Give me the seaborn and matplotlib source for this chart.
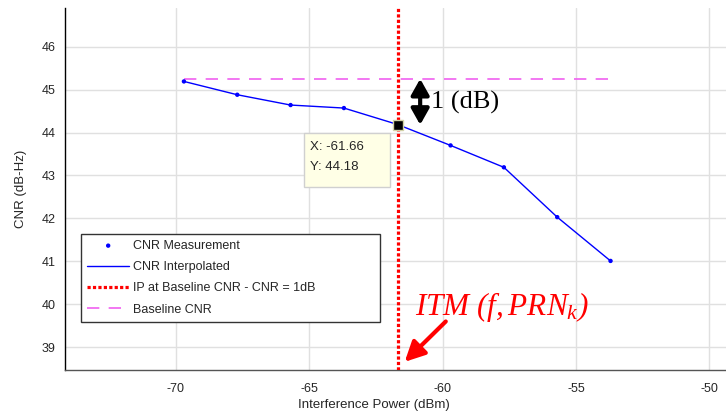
import numpy as np
import pandas as pd
import matplotlib
matplotlib.use("Agg")
import matplotlib.pyplot as plt
from matplotlib.patches import Rectangle
import seaborn as sns

# ---- data ----
ip_meas = [-69.7, -67.7, -65.7, -63.7, -61.7, -59.7, -57.7, -55.7, -53.7]
cnr_meas = [45.19, 44.88, 44.64, 44.57, 44.19, 43.70, 43.19, 42.03, 41.01]
baseline_cnr = 45.25
itm_x = -61.66
itm_y = 44.18
x_ticks = [-70, -65, -60, -55, -50]
y_ticks = [39, 40, 41, 42, 43, 44, 45, 46]

df = pd.DataFrame({"ip": ip_meas, "cnr": cnr_meas})

sns.set_theme(style="white")
plt.rcParams["font.family"] = ["Liberation Sans", "DejaVu Sans"]
plt.rcParams["axes.unicode_minus"] = False
plt.rcParams["mathtext.fontset"] = "custom"
plt.rcParams["mathtext.rm"] = "Liberation Serif:italic"
plt.rcParams["mathtext.it"] = "Liberation Serif:italic"

fig = plt.figure(figsize=(7.26, 4.12), dpi=100)
ax = fig.add_axes([65 / 726, 42 / 412, 661 / 726, 362 / 412])

ax.set_xlim(-74.16, -49.37)
ax.set_ylim(38.47, 46.9)
ax.set_xticks(x_ticks)
ax.set_yticks(y_ticks)
ax.grid(True, color="#e0e0e0", lw=1.0)
ax.set_axisbelow(True)

# baseline
sns.lineplot(x=[ip_meas[0], ip_meas[-1]], y=[baseline_cnr, baseline_cnr], ax=ax,
             color="#f060f0", lw=1.2, label="Baseline CNR", zorder=2)
ax.lines[-1].set_dashes([7.4, 5.6])
# interpolated line
sns.lineplot(data=df, x="ip", y="cnr", ax=ax, color="#0000ff", lw=1.0,
             label="CNR Interpolated", zorder=3)
# measurement points
sns.scatterplot(data=df, x="ip", y="cnr", ax=ax, color="#0000ff", s=10,
                edgecolor="none", label="CNR Measurement", zorder=4)
# vertical IP line
ax.axvline(itm_x, color="#ff0000", lw=2.3, linestyle=(0, (1, 0.7)),
           label="IP at Baseline CNR - CNR = 1dB", zorder=5)
# datatip marker
ax.plot([itm_x], [itm_y], marker="s", ms=7.5, color="black",
        mec="#d2d2a8", mew=1.0, zorder=6)

# datatip box
ax.add_patch(Rectangle((itm_x - 3.52, itm_y - 1.45), 3.19, 1.25, fc="#ffffe6",
                       ec="#d0d0d0", lw=1.0, zorder=7))
ax.text(itm_x - 3.3, itm_y - 0.515, f"X: {itm_x:.2f}", fontsize=9.5, color="#262626",
        ha="left", va="center", zorder=8)
ax.text(itm_x - 3.3, itm_y - 0.98, f"Y: {itm_y:.2f}", fontsize=9.5, color="#262626",
        ha="left", va="center", zorder=8)

# 1 dB double arrow
ax.annotate("", xy=(-60.84, itm_y), xytext=(-60.84, baseline_cnr),
            arrowprops=dict(arrowstyle="<|-|>,head_length=0.8,head_width=0.45",
                            lw=3, color="black", shrinkA=0, shrinkB=0), zorder=7)
ax.text(-60.43, 44.69, "1 (dB)", fontsize=19, family=["Liberation Serif"],
        ha="left", va="center", color="black")

# ITM label and arrow
ax.text(-61.05, 39.93, r"$ITM\ (f,PRN_k)$", fontsize=22.5, color="#ff0000",
        ha="left", va="center")
ax.annotate("", xy=(-61.42, 38.66), xytext=(-59.88, 39.6),
            arrowprops=dict(arrowstyle="-|>,head_length=1.0,head_width=0.5",
                            lw=3, color="#ff0000", shrinkA=0, shrinkB=0), zorder=7)

# legend
h, l = ax.get_legend_handles_labels()
order = ["CNR Measurement", "CNR Interpolated", "IP at Baseline CNR - CNR = 1dB", "Baseline CNR"]
hh = [h[l.index(o)] for o in order]
leg = ax.legend(hh, order, loc="upper left", bbox_to_anchor=(0.0242, 0.1307, 0.4524, 0.2459),
                mode="expand", fontsize=9, frameon=True, fancybox=False, framealpha=1,
                edgecolor="#333333", handlelength=3.35, handletextpad=0.35,
                labelspacing=0.74, borderpad=0.5, scatterpoints=1, borderaxespad=0)
leg.get_frame().set_linewidth(1.0)
for t in leg.get_texts():
    t.set_color("#262626")

ax.set_xlabel("Interference Power (dBm)", fontsize=9.5, color="#262626")
ax.set_ylabel("CNR (dB-Hz)", fontsize=9.5, color="#262626")
ax.xaxis.set_label_coords((374 - 65) / 661, -0.08)
ax.yaxis.set_label_coords(-0.058, 0.5)

ax.tick_params(axis="both", direction="in", length=6, width=1, colors="#262626",
               labelsize=9, pad=7)
ax.tick_params(axis="x", pad=9)
for s in ["top", "right"]:
    ax.spines[s].set_visible(False)
ax.spines["left"].set_color("#000000")
ax.spines["bottom"].set_color("#555555")
ax.spines["left"].set_linewidth(1.0)
ax.spines["bottom"].set_linewidth(1.0)

fig.savefig("out.png", dpi=100)
